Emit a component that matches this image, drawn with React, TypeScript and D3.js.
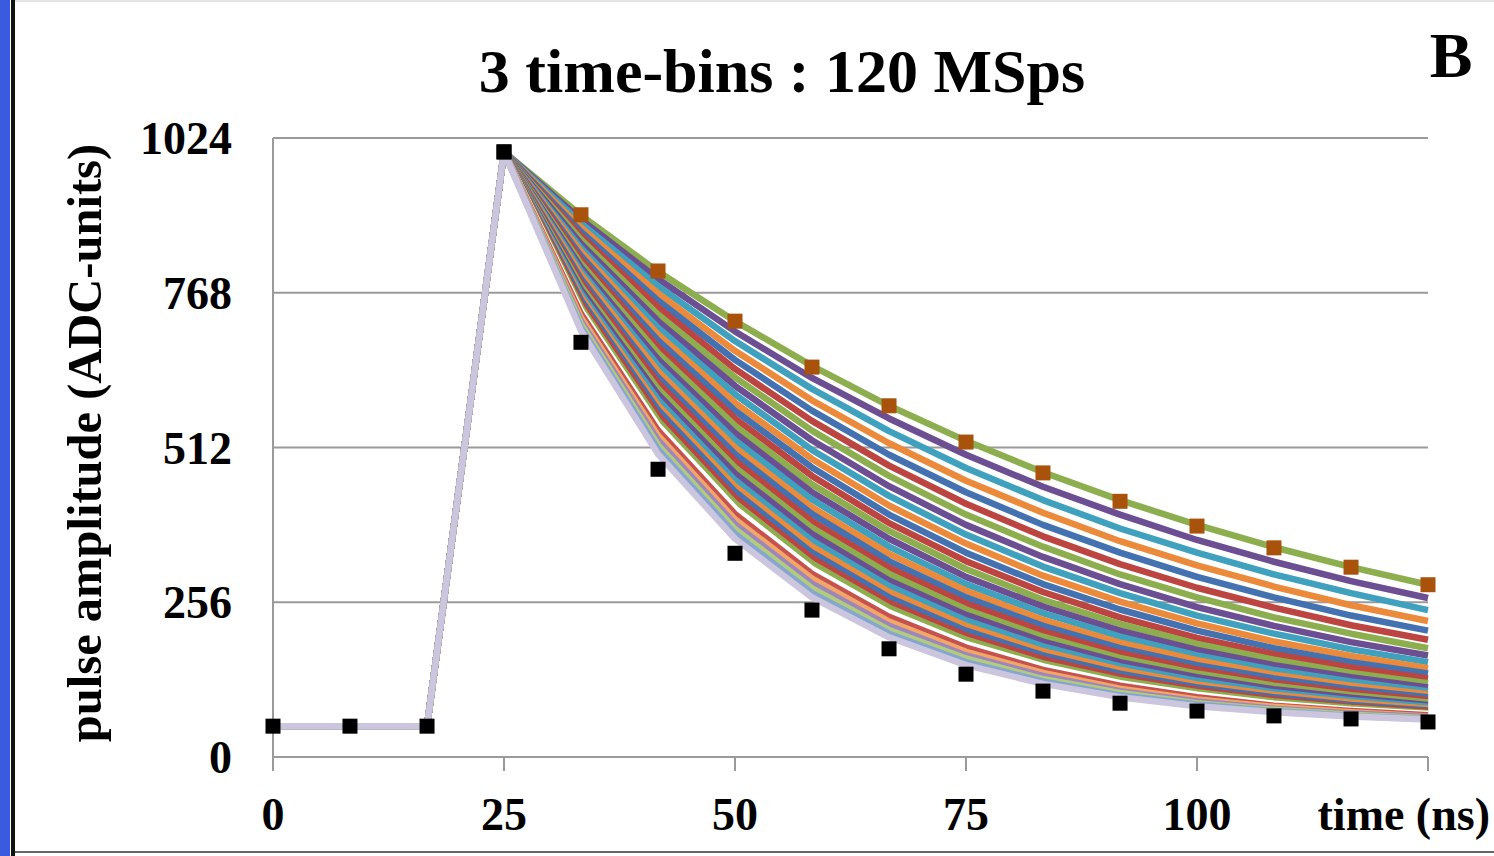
import React from 'react';
import * as d3 from 'd3';

// sample times, 120 MSps -> 8.33 ns steps
const timeNs = [0, 8.33, 16.67, 25, 33.33, 41.67, 50, 58.33, 66.67, 75, 83.33, 91.67, 100, 108.33, 116.67, 125];

// shared start of every pulse: baseline, then peak
const pulseLead = [51, 51, 51, 1001];

// decay tails (33.3 ns .. 125 ns), slowest first
const decayCurves = [
  [896, 803, 721, 647, 581, 523, 471, 425, 384, 347, 314, 285],
  [889, 791, 704, 627, 560, 500, 447, 401, 359, 323, 291, 263],
  [883, 779, 688, 609, 539, 478, 425, 378, 338, 302, 271, 243],
  [876, 767, 672, 590, 519, 457, 404, 357, 317, 282, 251, 225],
  [869, 755, 657, 573, 500, 438, 384, 338, 298, 264, 234, 209],
  [862, 744, 642, 556, 482, 419, 365, 319, 280, 247, 218, 194],
  [856, 732, 628, 540, 465, 401, 348, 302, 264, 231, 204, 180],
  [849, 721, 614, 524, 448, 384, 331, 286, 248, 217, 190, 168],
  [842, 710, 600, 508, 432, 368, 315, 271, 234, 204, 178, 157],
  [836, 699, 586, 493, 416, 353, 300, 257, 221, 191, 167, 147],
  [829, 689, 573, 479, 401, 338, 286, 244, 209, 180, 157, 138],
  [823, 678, 560, 465, 387, 324, 273, 231, 197, 170, 148, 130],
  [816, 668, 548, 451, 374, 311, 260, 220, 187, 161, 139, 122],
  [810, 658, 536, 438, 361, 298, 249, 209, 177, 152, 132, 115],
  [804, 648, 524, 426, 348, 286, 238, 199, 168, 144, 125, 109],
  [798, 638, 512, 413, 336, 275, 227, 189, 160, 136, 118, 104],
  [791, 628, 501, 402, 324, 264, 217, 180, 152, 130, 112, 99],
  [785, 619, 490, 390, 313, 254, 208, 172, 145, 123, 107, 94],
  [779, 609, 479, 379, 303, 244, 199, 164, 138, 118, 102, 90],
  [773, 600, 469, 369, 292, 235, 191, 157, 132, 112, 98, 86],
  [767, 591, 458, 358, 283, 226, 183, 150, 126, 107, 94, 83],
  [761, 582, 448, 348, 273, 217, 175, 144, 120, 103, 90, 80],
  [756, 574, 439, 338, 264, 209, 168, 138, 115, 99, 86, 77],
  [750, 565, 429, 329, 255, 201, 162, 132, 111, 95, 83, 75],
  [744, 556, 420, 320, 247, 194, 155, 127, 107, 92, 81, 73],
  [738, 548, 411, 311, 239, 187, 150, 122, 103, 88, 78, 71],
  [733, 540, 402, 303, 232, 181, 144, 118, 99, 85, 76, 69],
  [727, 532, 393, 295, 224, 174, 139, 113, 95, 83, 74, 67],
  [721, 524, 385, 287, 217, 168, 134, 109, 92, 80, 72, 66],
  [716, 516, 377, 279, 210, 163, 129, 106, 89, 78, 70, 64],
  [710, 509, 369, 271, 204, 157, 125, 102, 87, 76, 68, 63],
  [705, 501, 361, 264, 198, 152, 121, 99, 84, 74, 67, 62],
];

const curveColors = [
  '#8DAE4F', '#6C4E92', '#3FA1BD', '#EC8A3B', '#4472B1', '#BC4542',
  '#8DAE4F', '#6C4E92', '#3FA1BD', '#EC8A3B', '#4472B1', '#BC4542',
  '#8DAE4F', '#6C4E92', '#3FA1BD', '#EC8A3B', '#4472B1', '#BC4542',
  '#8DAE4F', '#6C4E92', '#3FA1BD', '#EC8A3B', '#4472B1', '#BC4542',
  '#8DAE4F', '#FFFFFF', '#C5524F', '#F2A766', '#9E86BC', '#B2CC7C',
  '#86A6D0', '#CBC5DD',
];

// marker-only series
const slowMarkers = [1001, 897, 804, 721, 645, 581, 521, 470, 423, 382, 346, 314, 285];
const slowTimes = timeNs.slice(3);
const fastMarkers = [51, 51, 51, 1001, 686, 476, 337, 243, 179, 137, 109, 89, 76, 68, 63, 58];

const yTicks = [0, 256, 512, 768, 1024];
const xTicks = [0, 25, 50, 75, 100, 125];
const xLabels = [0, 25, 50, 75, 100];

const W = 1494;
const H = 856;

const App = () => {
  const x = d3.scaleLinear().domain([0, 125]).range([273, 1428]);
  const y = d3.scaleLinear().domain([0, 1024]).range([757, 138]);

  const line = d3.line<number>()
    .x((_, i) => x(timeNs[i]))
    .y(d => y(d));

  const serif = '"Liberation Serif", "Times New Roman", serif';
  const ms = 15;

  return (
    <svg width={W} height={H} style={{ position: 'absolute', left: 0, top: 0, background: '#fff' }}
      fontFamily={serif} fontWeight="bold">
      <rect x={0} y={0} width={10} height={H} fill="#3A5AE0" />
      <rect x={11} y={0} width={4} height={H} fill="#111" />
      <line x1={15} x2={W} y1={1} y2={1} stroke="#e4e4e4" strokeWidth={2} />
      <line x1={15} x2={W} y1={852} y2={852} stroke="#666" strokeWidth={2} />

      <text x={782} y={92} textAnchor="middle" fontSize={62}>3 time-bins : 120 MSps</text>
      <text x={1451} y={77} textAnchor="middle" fontSize={64}>B</text>

      {yTicks.slice(1).map(t => (
        <line key={t} x1={x(0)} x2={x(125)} y1={y(t)} y2={y(t)} stroke="#9a9a9a" strokeWidth={2} />
      ))}
      <line x1={x(0)} x2={x(0)} y1={y(1024)} y2={771} stroke="#9a9a9a" strokeWidth={2} />
      <line x1={x(0)} x2={x(125)} y1={y(0)} y2={y(0)} stroke="#9a9a9a" strokeWidth={2} />
      {xTicks.map(t => (
        <line key={t} x1={x(t)} x2={x(t)} y1={y(0)} y2={771} stroke="#9a9a9a" strokeWidth={2} />
      ))}

      {yTicks.map(t => (
        <text key={t} x={232} y={y(t) + 16} textAnchor="end" fontSize={46}>{t}</text>
      ))}
      {xLabels.map(t => (
        <text key={t} x={x(t)} y={830} textAnchor="middle" fontSize={46}>{t}</text>
      ))}
      <text x={1490} y={830} textAnchor="end" fontSize={46}>time (ns)</text>
      <text transform="translate(101,443) rotate(-90)" textAnchor="middle" fontSize={48.5}>
        pulse amplitude (ADC-units)
      </text>

      <g fill="none" strokeLinejoin="round" strokeLinecap="butt">
        {decayCurves.map((tail, i) => (
          <path key={i} d={line([...pulseLead, ...tail]) || ''} stroke={curveColors[i]} strokeWidth={6.5} />
        ))}
      </g>

      {slowMarkers.map((v, i) => (
        <rect key={'s' + i} x={x(slowTimes[i]) - ms / 2} y={y(v) - ms / 2} width={ms} height={ms}
          fill={i === 0 ? '#000' : '#A8520C'} />
      ))}
      {fastMarkers.map((v, i) => (
        <rect key={'f' + i} x={x(timeNs[i]) - ms / 2} y={y(v) - ms / 2} width={ms} height={ms} fill="#000" />
      ))}
    </svg>
  );
};

export default App;
